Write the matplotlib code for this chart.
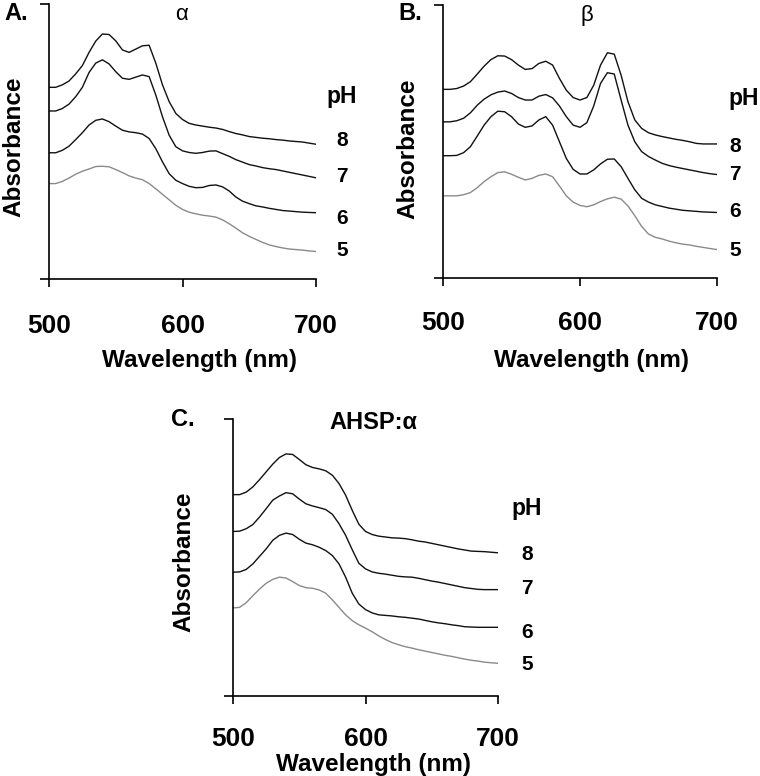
import numpy as np
import matplotlib
matplotlib.use("Agg")
import matplotlib.pyplot as plt

plt.rcParams['font.family'] = ['Liberation Sans', 'DejaVu Sans']

# figure size in pixels
W, H = 760, 776

# shared wavelength grid (nm), 5 nm steps
wavelength = np.arange(500, 701, 5)

# absorbance (arbitrary units, curves offset as in the figure)
# panel A: alpha
a_ph8 = [69.7, 69.7, 70.6, 72.0, 74.6, 77.6, 82.4, 86.5, 89.1, 88.9, 86.6, 83.3, 82.4, 83.6, 84.8,
         85.0, 78.5, 70.6, 64.5, 60.2, 58.0, 56.6, 56.0, 55.6, 55.2, 54.9, 54.4, 53.6, 52.9, 52.4,
         51.8, 51.5, 51.2, 51.0, 50.7, 50.5, 50.2, 50.0, 49.8, 49.4, 49.0]
a_ph7 = [61.1, 61.1, 62.0, 63.6, 66.3, 69.7, 75.1, 78.5, 79.7, 78.2, 75.4, 73.0, 72.6, 73.4, 74.2,
         73.6, 66.9, 59.0, 52.3, 48.1, 46.6, 46.0, 45.7, 46.0, 46.5, 46.6, 45.6, 44.6, 43.4, 42.5,
         41.6, 41.1, 40.5, 40.1, 39.8, 39.3, 38.8, 38.3, 37.8, 37.3, 36.8]
a_ph6 = [45.9, 45.9, 46.8, 48.3, 50.7, 53.2, 56.0, 57.7, 58.2, 57.2, 55.6, 54.1, 53.5, 53.2, 52.7,
         51.1, 47.4, 42.6, 38.3, 35.9, 34.7, 33.7, 33.2, 33.3, 34.0, 34.2, 33.5, 32.0, 29.8, 28.3,
         27.4, 26.6, 26.2, 25.7, 25.3, 24.9, 24.7, 24.5, 24.3, 24.2, 24.1]
a_ph5 = [34.7, 34.7, 35.5, 36.7, 38.1, 39.2, 40.0, 40.9, 41.0, 40.8, 39.8, 38.7, 37.5, 36.7, 36.1,
         34.7, 32.8, 30.8, 28.8, 26.8, 25.3, 24.3, 23.7, 23.2, 22.9, 22.5, 21.5, 20.1, 18.5, 16.8,
         15.5, 14.4, 13.3, 12.4, 11.8, 11.3, 10.9, 10.7, 10.5, 10.2, 10.0]

# panel B: beta
b_ph8 = [69.1, 69.1, 69.4, 70.3, 71.9, 74.7, 77.6, 80.0, 81.4, 81.3, 80.0, 78.0, 76.4, 76.7, 78.6,
         79.4, 78.0, 73.1, 68.8, 66.1, 65.2, 66.1, 70.6, 78.0, 82.5, 82.0, 74.3, 64.6, 57.9, 54.8,
         53.2, 52.4, 51.8, 51.3, 50.8, 50.4, 49.9, 49.3, 49.1, 49.1, 49.1]
b_ph7 = [57.2, 57.2, 57.6, 58.5, 60.5, 63.3, 65.5, 67.1, 68.1, 68.5, 67.6, 66.1, 65.2, 65.2, 66.6,
         67.2, 66.0, 63.0, 59.1, 56.0, 55.2, 56.9, 63.0, 71.3, 75.2, 74.7, 65.2, 56.0, 49.9, 46.3,
         44.5, 43.2, 42.0, 41.2, 40.6, 40.1, 39.6, 39.1, 38.6, 38.2, 37.9]
b_ph6 = [44.8, 44.8, 44.9, 45.9, 48.1, 52.0, 56.0, 59.1, 61.1, 60.9, 59.1, 56.4, 55.2, 55.7, 57.9,
         59.1, 56.0, 49.9, 43.8, 39.8, 38.1, 38.1, 39.6, 41.8, 43.5, 43.6, 40.8, 36.5, 32.3, 29.2,
         27.8, 26.8, 26.2, 25.6, 25.2, 24.8, 24.6, 24.4, 24.2, 24.1, 24.0]
b_ph5 = [30.1, 30.1, 30.1, 30.5, 31.3, 33.1, 35.3, 37.1, 38.6, 38.9, 38.0, 36.9, 35.9, 36.5, 37.6,
         38.1, 37.1, 33.7, 30.1, 27.8, 26.6, 26.1, 26.8, 28.0, 29.0, 29.6, 28.9, 26.4, 22.8, 18.9,
         16.1, 14.9, 14.3, 13.5, 12.9, 12.4, 12.1, 11.6, 11.2, 10.8, 10.4]

# panel C: AHSP:alpha
c_ph8 = [72.7, 72.7, 73.6, 75.5, 78.1, 80.9, 83.7, 86.1, 87.4, 87.2, 85.4, 83.5, 82.5, 82.0, 81.3,
         79.7, 76.7, 72.5, 67.0, 62.0, 59.4, 58.3, 57.7, 57.4, 57.1, 57.0, 56.8, 56.4, 55.9, 55.6,
         55.1, 54.6, 54.1, 53.6, 53.1, 52.7, 52.3, 52.2, 52.1, 51.9, 51.7]
c_ph7 = [59.4, 59.5, 60.4, 61.9, 64.6, 67.6, 70.7, 72.2, 73.4, 73.0, 71.1, 69.4, 68.6, 68.0, 67.3,
         65.6, 62.2, 58.0, 52.8, 47.9, 45.9, 44.8, 44.3, 44.0, 43.6, 43.2, 43.0, 42.9, 42.5, 42.0,
         41.5, 41.1, 40.6, 40.1, 39.6, 39.1, 38.8, 38.5, 38.4, 38.4, 38.4]
c_ph6 = [44.7, 44.8, 45.7, 47.7, 50.4, 53.1, 56.2, 58.0, 58.8, 58.3, 56.6, 55.2, 54.6, 53.7, 52.5,
         50.7, 47.7, 42.9, 37.1, 33.2, 31.2, 30.0, 29.3, 29.1, 28.9, 28.6, 28.4, 28.1, 27.8, 27.3,
         26.8, 26.4, 26.1, 25.7, 25.4, 25.0, 24.9, 24.8, 24.8, 24.8, 24.8]
c_ph5 = [31.8, 32.0, 33.7, 36.2, 38.6, 40.7, 42.1, 42.9, 42.6, 41.3, 39.9, 39.1, 38.9, 38.3, 37.1,
         34.7, 32.0, 29.3, 27.2, 25.7, 24.5, 23.2, 21.7, 20.4, 19.3, 18.5, 17.8, 17.3, 16.7, 16.2,
         15.7, 15.2, 14.7, 14.3, 13.8, 13.3, 12.9, 12.6, 12.2, 12.0, 11.8]

ph_labels = ['8', '7', '6', '5']
curve_colors = ['#111111', '#111111', '#111111', '#8a8a8a']
x_ticks = [500, 600, 700]


def fx(x):
    return x / W


def fy(y):
    return 1 - y / H


fig = plt.figure(figsize=(W / 100, H / 100), dpi=100)

# (letter, title, curves, axes box in px [left, top, right, bottom], tick pad,
#  letter pos, title pos, absorbance pos, wavelength pos, pH pos, number x, number ys)
panels = [
    ('A.', 'α', [a_ph8, a_ph7, a_ph6, a_ph5], (49, 4, 316, 279), 19.5,
     (16, 13), (182, 14), (14, 147), (200, 360), (342, 96), 342, [141, 177, 218, 251]),
    ('B.', 'β', [b_ph8, b_ph7, b_ph6, b_ph5], (443, 5, 717, 278), 18.0,
     (410, 13), (587, 15), (408, 149), (592, 360), (744, 99), 735, [147, 175, 212, 250]),
    ('C.', 'AHSP:α', [c_ph8, c_ph7, c_ph6, c_ph5], (233, 419, 498, 696), 16.5,
     (183, 420), (373, 423), (184, 562), (373, 764), (527, 508), 527, [554, 589, 632, 665]),
]

for (letter, title, curves, box, pad, lpos, tpos, apos, wpos, phpos, nx, nys) in panels:
    left, top, right, bottom = box
    ax = fig.add_axes([fx(left), fy(bottom), fx(right) - fx(left), fy(top) - fy(bottom)])
    for vals, col in zip(curves, curve_colors):
        ax.plot(wavelength, vals, color=col, lw=1.0)
    ax.set_xlim(500, 700)
    ax.set_ylim(0, 100)
    ax.set_xticks(x_ticks)
    ax.set_yticks([0, 100])
    ax.set_yticklabels([])
    ax.spines['top'].set_visible(False)
    ax.spines['right'].set_visible(False)
    for s in ['left', 'bottom']:
        ax.spines[s].set_linewidth(1.2)
    ax.tick_params(axis='x', direction='out', length=5.8, width=1.2, pad=pad,
                   labelsize=19)
    ax.tick_params(axis='y', direction='out', length=6.5, width=1.2)
    for lab in ax.get_xticklabels():
        lab.set_fontweight('bold')

    fig.text(fx(lpos[0]), fy(lpos[1]), letter, fontsize=17, fontweight='bold',
             ha='center', va='center')
    if title == 'AHSP:α':
        fig.text(fx(tpos[0]), fy(tpos[1]), title, fontsize=17, fontweight='bold',
                 ha='center', va='center')
    else:
        fig.text(fx(tpos[0]), fy(tpos[1]), title, fontsize=16, ha='center', va='center')
    fig.text(fx(apos[0]), fy(apos[1]), 'Absorbance', fontsize=17.5, fontweight='bold',
             rotation=90, ha='center', va='center')
    fig.text(fx(wpos[0]), fy(wpos[1]), 'Wavelength (nm)', fontsize=17.5, fontweight='bold',
             ha='center', va='center')
    fig.text(fx(phpos[0]), fy(phpos[1]), 'pH', fontsize=16.5, fontweight='bold',
             ha='center', va='center')
    for lab, ny in zip(ph_labels, nys):
        fig.text(fx(nx), fy(ny), lab, fontsize=15, fontweight='bold', ha='center', va='center')

fig.savefig('out.png', dpi=100)
